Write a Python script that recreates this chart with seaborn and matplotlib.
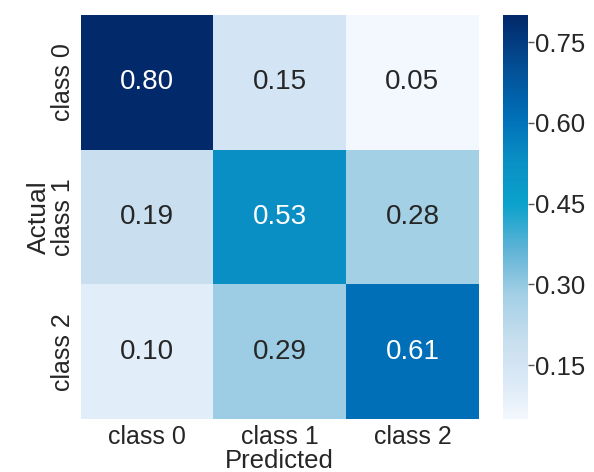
import numpy as np
import pandas as pd
import seaborn as sns
import matplotlib
matplotlib.use("Agg")
import matplotlib.pyplot as plt
from matplotlib.colors import LinearSegmentedColormap

classes = ["class 0", "class 1", "class 2"]
row_class0 = [0.80, 0.15, 0.05]
row_class1 = [0.19, 0.53, 0.28]
row_class2 = [0.10, 0.29, 0.61]
cbar_ticks = [0.15, 0.30, 0.45, 0.60, 0.75]

cm = pd.DataFrame([row_class0, row_class1, row_class2], index=classes, columns=classes)

sns.set_theme(style="white")
plt.rcParams["font.family"] = ["Liberation Sans", "DejaVu Sans"]

# Blues-like map with a brighter cyan midrange
cmap = LinearSegmentedColormap.from_list(
    "vivid_blues",
    [
        (0.000, "#f3f8fe"),
        (0.067, "#e1edf8"),
        (0.133, "#d3e4f4"),
        (0.190, "#c8dfee"),
        (0.310, "#a2cfe5"),
        (0.420, "#5fb3d6"),
        (0.533, "#0aa2cc"),
        (0.640, "#0a8fc4"),
        (0.747, "#0070b8"),
        (0.870, "#034f95"),
        (1.000, "#02296a"),
    ],
)

fig = plt.figure(figsize=(5.94, 4.72), dpi=100)
ax = fig.add_axes([0.136, 0.112, 0.670, 0.856])
cax = fig.add_axes([0.847, 0.112, 0.042, 0.856])

sns.heatmap(
    cm, ax=ax, cbar_ax=cax, cmap=cmap, vmin=0.05, vmax=0.80,
    annot=True, fmt=".2f", annot_kws={"size": 20},
    cbar_kws={"ticks": cbar_ticks},
)

ax.set_xlabel("Predicted", fontsize=18.5, labelpad=0)
ax.set_ylabel("Actual", fontsize=19, labelpad=0)
ax.tick_params(axis="both", labelsize=18, length=0, pad=4)
ax.set_yticklabels(classes, rotation=90, va="center")
ax.set_xticklabels(classes, rotation=0)

cax.tick_params(labelsize=18.5, length=4, width=1, color="#555555", pad=1)
cax.set_yticklabels([f"{t:.2f}" for t in cbar_ticks])
for s in cax.spines.values():
    s.set_visible(False)

fig.savefig("out.png", dpi=100)
